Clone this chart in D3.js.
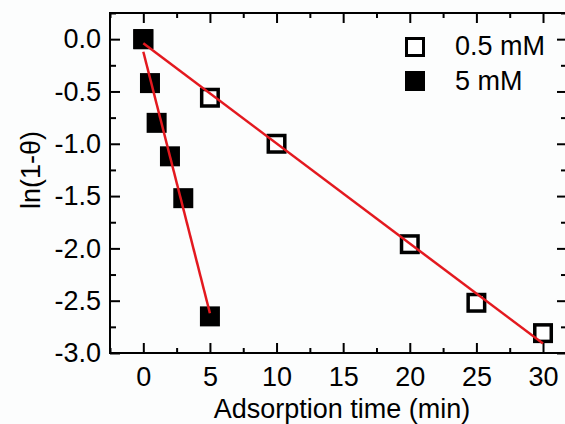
<!DOCTYPE html>
<html lang="en">
<head>
    <meta charset="utf-8">
    <title>ln(1-theta) vs adsorption time</title>
    <script src="https://d3js.org/d3.v7.min.js"></script>
    <style>
        body { margin: 0; background: #fcfdfd; }
        text { font-family: Arial, "Liberation Sans", sans-serif; fill: #000; }
    </style>
</head>
<body>
    <div id="chart-container"></div>

    <script>
        // data
        const timeLow = [0, 5, 10, 20, 25, 30];             // 0.5 mM
        const valueLow = [0, -0.56, -1.0, -1.96, -2.52, -2.81];
        const timeHigh = [0, 0.5, 1, 2, 3, 5];              // 5 mM
        const valueHigh = [0, -0.42, -0.8, -1.12, -1.52, -2.65];

        // fitted lines, end points
        const fitLowX = [0, 30];
        const fitLowY = [-0.04, -2.91];
        const fitHighX = [0, 5];
        const fitHighY = [-0.12, -2.62];

        const xTicks = [0, 5, 10, 15, 20, 25, 30];
        const yTicks = [0, -0.5, -1.0, -1.5, -2.0, -2.5, -3.0];
        const legendLabels = ['0.5 mM', '5 mM'];

        const width = 565;
        const height = 424;

        const plotLeft = 110;
        const plotTop = 13;
        const plotRight = 567;   // frame runs just past the picture edge
        const plotBottom = 353;

        const svg = d3.select('#chart-container')
            .append('svg')
            .attr('width', width)
            .attr('height', height);

        const xScale = d3.scaleLinear()
            .domain([-2.5, 31.8])
            .range([plotLeft, plotRight]);

        const yScale = d3.scaleLinear()
            .domain([-3, 0.25])
            .range([plotBottom, plotTop]);

        const xMinor = d3.range(-2.5, 32, 2.5).filter(d => d % 5 !== 0);
        const yMinor = d3.range(-2.75, 0.3, 0.5);

        // major and minor ticks on all four sides, pointing inward
        function ticks(axis, values, size, labels) {
            return axis.tickValues(values)
                .tickSizeInner(-size)
                .tickSizeOuter(0)
                .tickFormat(labels ? labels : '');
        }

        svg.append('g')
            .attr('transform', `translate(0,${plotBottom})`)
            .call(ticks(d3.axisBottom(xScale), xTicks, 10, d3.format('d')).tickPadding(14));
        svg.append('g')
            .attr('transform', `translate(0,${plotBottom})`)
            .call(ticks(d3.axisBottom(xScale), xMinor, 5));
        svg.append('g')
            .attr('transform', `translate(0,${plotTop})`)
            .call(ticks(d3.axisTop(xScale), xTicks, 10));
        svg.append('g')
            .attr('transform', `translate(0,${plotTop})`)
            .call(ticks(d3.axisTop(xScale), xMinor, 5));

        const leftAxis = svg.append('g')
            .attr('transform', `translate(${plotLeft},0)`)
            .call(ticks(d3.axisLeft(yScale), yTicks, 10, d3.format('.1f')).tickPadding(9));
        svg.append('g')
            .attr('transform', `translate(${plotLeft},0)`)
            .call(ticks(d3.axisLeft(yScale), yMinor, 6));
        svg.append('g')
            .attr('transform', `translate(${plotRight},0)`)
            .call(ticks(d3.axisRight(yScale), yTicks, 10));
        svg.append('g')
            .attr('transform', `translate(${plotRight},0)`)
            .call(ticks(d3.axisRight(yScale), yMinor, 6));

        svg.selectAll('.domain').remove();
        svg.selectAll('.tick line')
            .attr('stroke', '#000')
            .attr('stroke-width', 2);
        svg.selectAll('.tick text')
            .style('font-size', '27px')
            .attr('fill', '#000');
        // plain hyphen for the minus sign, like the original
        leftAxis.selectAll('.tick text').text(d => d3.format('.1f')(d).replace('−', '-'));

        // frame
        svg.append('rect')
            .attr('x', plotLeft)
            .attr('y', plotTop)
            .attr('width', plotRight - plotLeft)
            .attr('height', plotBottom - plotTop)
            .attr('fill', 'none')
            .attr('stroke', '#000')
            .attr('stroke-width', 2);

        // axis titles
        svg.append('text')
            .attr('x', 342)
            .attr('y', 418)
            .attr('text-anchor', 'middle')
            .style('font-size', '27px')
            .text('Adsorption time (min)');
        svg.append('text')
            .attr('transform', 'rotate(-90)')
            .attr('x', -170)
            .attr('y', 40)
            .attr('text-anchor', 'middle')
            .style('font-size', '27px')
            .text('ln(1-θ)');

        const fitLine = d3.line()
            .x(d => xScale(d[0]))
            .y(d => yScale(d[1]));

        // squares
        const sq = 20;
        svg.selectAll('rect.low')
            .data(d3.zip(timeLow, valueLow))
            .enter()
            .append('rect')
            .attr('class', 'low')
            .attr('x', d => xScale(d[0]) - sq / 2 + 1.75)
            .attr('y', d => yScale(d[1]) - sq / 2 + 1.75)
            .attr('width', sq - 3.5)
            .attr('height', sq - 3.5)
            .attr('fill', '#fff')
            .attr('stroke', '#000')
            .attr('stroke-width', 3.5);

        svg.selectAll('rect.high')
            .data(d3.zip(timeHigh, valueHigh))
            .enter()
            .append('rect')
            .attr('class', 'high')
            .attr('x', d => xScale(d[0]) - sq / 2)
            .attr('y', d => yScale(d[1]) - sq / 2)
            .attr('width', sq)
            .attr('height', sq)
            .attr('fill', '#000');

        // fitted lines on top of the squares
        svg.append('path')
            .datum(d3.zip(fitLowX, fitLowY))
            .attr('d', fitLine)
            .attr('fill', 'none')
            .attr('stroke', '#e3191f')
            .attr('stroke-width', 2.5);
        svg.append('path')
            .datum(d3.zip(fitHighX, fitHighY))
            .attr('d', fitLine)
            .attr('fill', 'none')
            .attr('stroke', '#e3191f')
            .attr('stroke-width', 2.5);

        // legend
        const legend = svg.append('g').attr('transform', 'translate(405,37)');
        legend.append('rect')
            .attr('x', 1.5).attr('y', 1.5)
            .attr('width', 17).attr('height', 17)
            .attr('fill', '#fff')
            .attr('stroke', '#000')
            .attr('stroke-width', 3);
        legend.append('rect')
            .attr('x', 0).attr('y', 34)
            .attr('width', 20).attr('height', 20)
            .attr('fill', '#000');
        legend.selectAll('text')
            .data(legendLabels)
            .enter()
            .append('text')
            .attr('x', 50)
            .attr('y', (d, i) => 18 + i * 35)
            .style('font-size', '27px')
            .text(d => d);
    </script>
</body>
</html>
